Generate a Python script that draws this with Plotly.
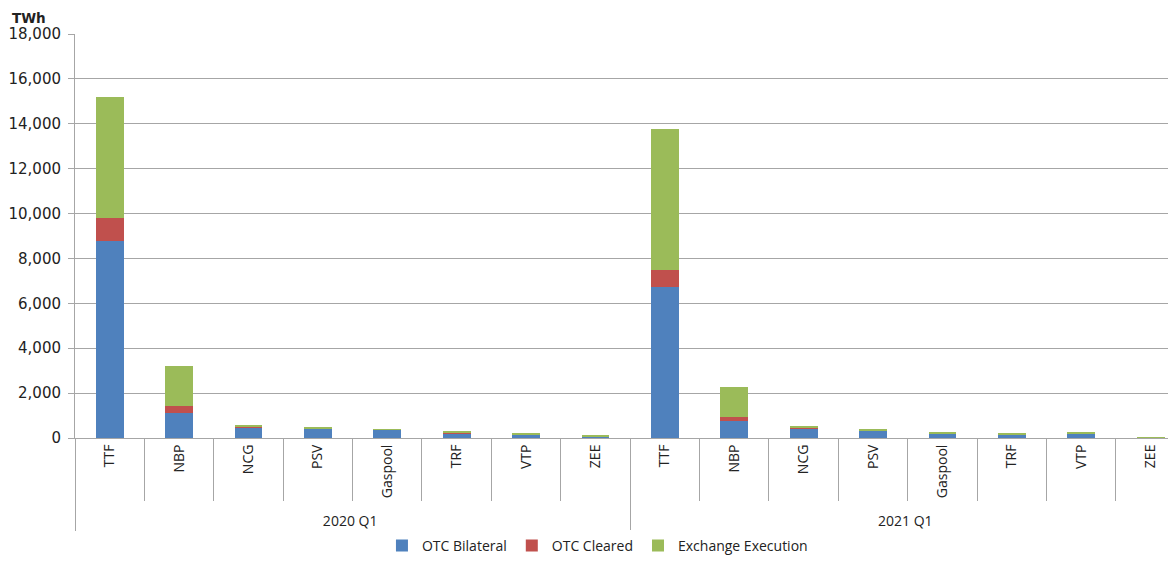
import plotly.graph_objects as go

periods = ["2020 Q1"] * 8 + ["2021 Q1"] * 8
hubs = ["TTF", "NBP", "NCG", "PSV", "Gaspool", "TRF", "VTP", "ZEE"] * 2

otc_bilateral = [8780, 1100, 480, 430, 360, 220, 150, 70,
                 6720, 750, 440, 330, 200, 150, 210, 5]
otc_cleared = [1030, 340, 50, 5, 5, 5, 5, 5,
               770, 200, 10, 5, 5, 5, 5, 0]
exchange_execution = [5390, 1770, 60, 40, 30, 45, 40, 50,
                      6280, 1340, 100, 30, 70, 60, 15, 30]

series = [
    ("OTC Bilateral", otc_bilateral, "#4F81BD"),
    ("OTC Cleared", otc_cleared, "#C0504D"),
    ("Exchange Execution", exchange_execution, "#9BBB59"),
]

fig = go.Figure()
for name, vals, color in series:
    fig.add_trace(go.Bar(
        x=[periods, hubs],
        y=vals,
        name=name,
        marker=dict(color=color, line=dict(width=0)),
    ))

grey = "#A6A6A6"
font = "Open Sans, DejaVu Sans, sans-serif"

# page body keeps its 8px margin, so the figure is sized to fit inside it
fig.update_layout(
    barmode="stack",
    bargap=0.6,
    autosize=False,
    width=1160,
    height=547,
    margin=dict(l=67, r=0, t=26, b=117, autoexpand=False),
    paper_bgcolor="white",
    plot_bgcolor="white",
    font=dict(family=font, size=14, color="#222"),
    showlegend=True,
    legend=dict(
        orientation="h",
        x=0.478,
        xanchor="center",
        y=-0.267,
        yanchor="middle",
        font=dict(size=14),
        itemwidth=30,
        traceorder="normal",
    ),
    annotations=[dict(
        text="<b>TWh</b>",
        xref="paper", yref="paper",
        x=-0.0595, y=1.064,
        xanchor="left", yanchor="top",
        showarrow=False,
        font=dict(family="DejaVu Sans, sans-serif", size=13.5, color="#222"),
    )],
)

fig.update_yaxes(
    range=[0, 18000],
    dtick=2000,
    tickformat=",",
    showgrid=True,
    gridcolor=grey,
    gridwidth=1,
    showline=True,
    linecolor=grey,
    ticks="outside",
    ticklen=6,
    tickcolor=grey,
    ticklabelstandoff=4,
    zeroline=False,
    automargin=False,
    tickfont=dict(family="DejaVu Sans, sans-serif", size=15),
)

# last category runs past the right edge, as in the source chart
fig.update_xaxes(
    type="multicategory",
    range=[-0.5, 15.25],
    tickangle=-90,
    showline=True,
    linecolor=grey,
    ticks="outside",
    tickson="boundaries",
    ticklen=62,
    tickcolor=grey,
    showdividers=True,
    dividercolor=grey,
    dividerwidth=1,
    automargin=False,
    tickfont=dict(size=14),
)

fig.write_html("out.html")
